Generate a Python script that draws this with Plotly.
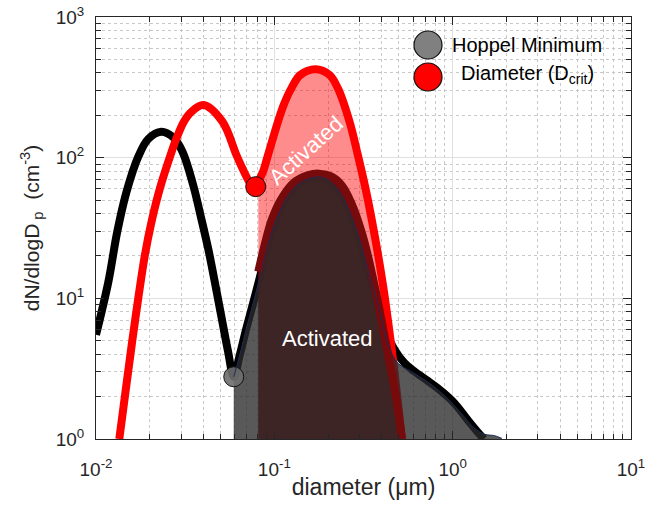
import plotly.graph_objects as go

# ---------------- data ----------------
# measured size distribution (black curve)
black_d = [0.0100, 0.01173, 0.01316, 0.01484, 0.01726, 0.01963, 0.02322, 0.02710, 0.03055,
           0.03506, 0.03870, 0.04272, 0.04634, 0.05028, 0.05503, 0.05921, 0.0640, 0.0697,
           0.0760, 0.0827, 0.0942, 0.1071, 0.1219, 0.1423, 0.1763, 0.2005, 0.2282, 0.2596,
           0.2952, 0.3218, 0.3505, 0.3821, 0.4163, 0.4735, 0.5385, 0.6127, 0.7276, 0.8643,
           1.026, 1.218, 1.386, 1.497]
black_n = [5.5, 13.1, 29.8, 57.3, 101.7, 135.8, 153, 139.5, 110.3,
           63.9, 38.1, 22.1, 13.1, 7.61, 4.18, 2.77, 3.95, 6.12,
           9.21, 13.9, 26.7, 41.3, 55.8, 67.5, 72.9, 69.4, 58.9, 43.6,
           28.2, 19.2, 13.1, 8.97, 6.12, 4.29, 3.45, 3.01, 2.58, 2.19,
           1.79, 1.36, 1.115, 1.0]

# edge of the gray shaded area
fit_d = [0.05921, 0.0640, 0.0697, 0.0760, 0.0827, 0.0942, 0.1071, 0.1219, 0.1423, 0.1763,
         0.2005, 0.2282, 0.2596, 0.2952, 0.3218, 0.3505, 0.3821, 0.4346, 0.4943, 0.5871,
         0.7276, 0.9021, 1.118, 1.327, 1.51, 1.718, 1.888]
fit_n = [2.77, 3.95, 6.12, 9.21, 13.9, 26.7, 41.3, 55.8, 67.5, 72.9,
         69.4, 58.9, 43.6, 28.2, 19.2, 13.1, 8.97, 4.66, 3.45, 3.01,
         2.53, 2.03, 1.52, 1.19, 1.08, 1.056, 1.01]

# red distribution
red_d = [0.01351, 0.01472, 0.01653, 0.01880, 0.02049, 0.02282, 0.02618, 0.02828, 0.03109,
         0.03430, 0.04005, 0.05117, 0.06127, 0.06763, 0.07340, 0.07861, 0.0815, 0.08642,
         0.09218, 0.1048, 0.1128, 0.1245, 0.1398, 0.1703, 0.2041, 0.2272, 0.2640, 0.2939,
         0.3245, 0.3535, 0.3821, 0.4092, 0.4346, 0.4656, 0.4922, 0.519]
red_n = [1.0, 2.29, 6.83, 20.3, 35.1, 60.5, 104.5, 137.2, 180.3,
         212.3, 236.8, 180.3, 104.5, 79.5, 65.7, 62.2, 68, 79.5,
         104.5, 180.3, 236.8, 311, 387, 424.6, 387, 311, 180.3, 104.5,
         60.5, 35.1, 20.3, 11.78, 6.83, 3.43, 1.86, 1.0]

# activated part (dark red curve)
act_d = [0.0813, 0.0887, 0.0966, 0.1099, 0.1305, 0.155, 0.1778, 0.2094, 0.2381, 0.2709,
         0.3083, 0.3358, 0.366, 0.3988, 0.4345, 0.4735, 0.5203]
act_n = [15.5, 24.6, 36.1, 51.4, 67.5, 75.3, 77, 73.3, 63.9, 47.4,
         29.8, 19.8, 12.1, 7.0, 3.95, 2.23, 1.0]

# special points
hoppel_d, hoppel_n = 0.05921, 2.77
dcrit_d, dcrit_n = 0.07861, 62.2
fill_start_d = 0.0813
base_n = 1.0

x_tickvals = [0.01, 0.1, 1, 10]
x_ticktext = ["10<sup>-2</sup>", "10<sup>-1</sup>", "10<sup>0</sup>", "10<sup>1</sup>"]
y_tickvals = [1, 10, 100, 1000]
y_ticktext = ["10<sup>0</sup>", "10<sup>1</sup>", "10<sup>2</sup>", "10<sup>3</sup>"]

legend_labels = ["Hoppel Minimum", "Diameter (D<sub>crit</sub>)"]
legend_colors = ["#808080", "#ff0000"]

# ---------------- styling ----------------
FONT = "Liberation Sans, Arial, Helvetica, sans-serif"
AX = "#262626"
RED = "#ff0000"
MAROON = "#770b0b"
NAVY = "#1c2b5a"

fig = go.Figure()


def baseline(d0, d1):
    fig.add_trace(go.Scatter(x=[d0, d1], y=[base_n, base_n], mode="lines",
                             line=dict(width=0), hoverinfo="skip", showlegend=False))


# light red activated area
red_sub = [(d, n) for d, n in zip(red_d, red_n) if d >= fill_start_d]
baseline(fill_start_d, red_sub[-1][0])
fig.add_trace(go.Scatter(x=[fill_start_d] + [p[0] for p in red_sub],
                         y=[red_sub[0][1] * 0.97] + [p[1] for p in red_sub], mode="lines",
                         line=dict(width=0, shape="spline"), fill="tonexty",
                         fillcolor="rgba(255,0,0,0.45)", showlegend=False, hoverinfo="skip"))

# black measured line
fig.add_trace(go.Scatter(x=black_d, y=black_n, mode="lines",
                         line=dict(color="black", width=8, shape="spline"), showlegend=False))
# red line
fig.add_trace(go.Scatter(x=red_d, y=red_n, mode="lines",
                         line=dict(color=RED, width=8, shape="spline"), showlegend=False))

# dark red activated fill
baseline(act_d[0], act_d[-1])
fig.add_trace(go.Scatter(x=act_d, y=act_n, mode="lines",
                         line=dict(width=0, shape="spline"), fill="tonexty",
                         fillcolor="rgba(119,11,11,0.93)", showlegend=False, hoverinfo="skip"))

# gray area under black curve
baseline(fit_d[0], fit_d[-1])
fig.add_trace(go.Scatter(x=fit_d, y=fit_n, mode="lines",
                         line=dict(width=0, shape="spline"), fill="tonexty",
                         fillcolor="rgba(42,42,42,0.78)", showlegend=False, hoverinfo="skip"))

# dark red line
fig.add_trace(go.Scatter(x=act_d, y=act_n, mode="lines",
                         line=dict(color=MAROON, width=8, shape="spline"), showlegend=False))

# hoppel marker
fig.add_trace(go.Scatter(x=[hoppel_d], y=[hoppel_n], mode="markers",
                         marker=dict(size=20, color="rgba(110,110,110,0.9)",
                                     line=dict(color="#111111", width=1)), showlegend=False))
# thin edge line of gray area
fig.add_trace(go.Scatter(x=fit_d, y=fit_n, mode="lines",
                         line=dict(color=NAVY, width=1, shape="spline"), showlegend=False))
# critical diameter marker
fig.add_trace(go.Scatter(x=[dcrit_d], y=[dcrit_n], mode="markers",
                         marker=dict(size=20, color=RED,
                                     line=dict(color="#111111", width=1)), showlegend=False))

# ---------------- custom legend & labels ----------------
L, R, T, B = 96, 15, 17, 73
W, H = 646, 512
pw, ph = W - L - R, H - T - B


def px_to_paper(px, py):
    return (px - L) / pw, (H - B - py) / ph


shapes = []
annotations = []
leg_marker_py = [45, 77]
leg_text_py = [45.5, 74]
for i, (lab, col) in enumerate(zip(legend_labels, legend_colors)):
    mx, my = px_to_paper(428, leg_marker_py[i])
    shapes.append(dict(type="circle", xref="paper", yref="paper", xsizemode="pixel",
                       ysizemode="pixel", xanchor=mx, yanchor=my, x0=-14, x1=14, y0=-14, y1=14,
                       fillcolor=col, line=dict(color="#111111", width=1.2), layer="above"))
    tx, ty = px_to_paper(527, leg_text_py[i])
    annotations.append(dict(text=lab, xref="paper", yref="paper", x=tx, y=ty,
                            xanchor="center", yanchor="middle", showarrow=False,
                            font=dict(size=20, color="black", family=FONT)))

ax1, ay1 = px_to_paper(306, 151)
annotations.append(dict(text="Activated", xref="paper", yref="paper", x=ax1, y=ay1,
                        xanchor="center", yanchor="middle", textangle=-42, showarrow=False,
                        font=dict(size=22, color="white", family=FONT)))
ax2, ay2 = px_to_paper(327, 338)
annotations.append(dict(text="Activated", xref="paper", yref="paper", x=ax2, y=ay2,
                        xanchor="center", yanchor="middle", showarrow=False,
                        font=dict(size=22, color="white", family=FONT)))

x_minor = [m * 10 ** e for e in range(-2, 1) for m in range(2, 10)]
y_minor = [m * 10 ** e for e in range(0, 3) for m in range(2, 10)]

common = dict(type="log", ticks="inside", ticklen=8, tickcolor=AX, tickwidth=1,
              showline=True, linecolor=AX, linewidth=1, mirror="allticks",
              showgrid=True, gridcolor="#e0e0e0", gridwidth=1, zeroline=False,
              automargin=False,
              tickfont=dict(size=19, color=AX, family=FONT))

fig.update_layout(
    width=W, height=H, autosize=False,
    margin=dict(l=L, r=R, t=T, b=B, pad=0),
    paper_bgcolor="white", plot_bgcolor="white",
    font=dict(family=FONT, color=AX),
    showlegend=False,
    xaxis=dict(range=[-2, 1], tickmode="array", tickvals=x_tickvals, ticktext=x_ticktext,
               ticklabelstandoff=13,
               minor=dict(tickmode="array", tickvals=x_minor, ticks="inside", ticklen=5,
                          tickcolor=AX, showgrid=True, gridcolor="#c8c8c8", griddash="dot",
                          gridwidth=1),
               title=dict(text="diameter (\u03bcm)", standoff=0,
                          font=dict(size=23, color=AX, family=FONT)),
               **common),
    yaxis=dict(range=[0, 3], tickmode="array", tickvals=y_tickvals, ticktext=y_ticktext,
               ticklabelstandoff=7,
               minor=dict(tickmode="array", tickvals=y_minor, ticks="inside", ticklen=5,
                          tickcolor=AX, showgrid=True, gridcolor="#c8c8c8", griddash="dot",
                          gridwidth=1),
               title=dict(text="dN/dlogD<sub> p</sub>  (cm<sup>-3</sup>)", standoff=10,
                          font=dict(size=21, color=AX, family=FONT)),
               **common),
    shapes=shapes,
    annotations=annotations,
)

fig.write_html("out.html")
